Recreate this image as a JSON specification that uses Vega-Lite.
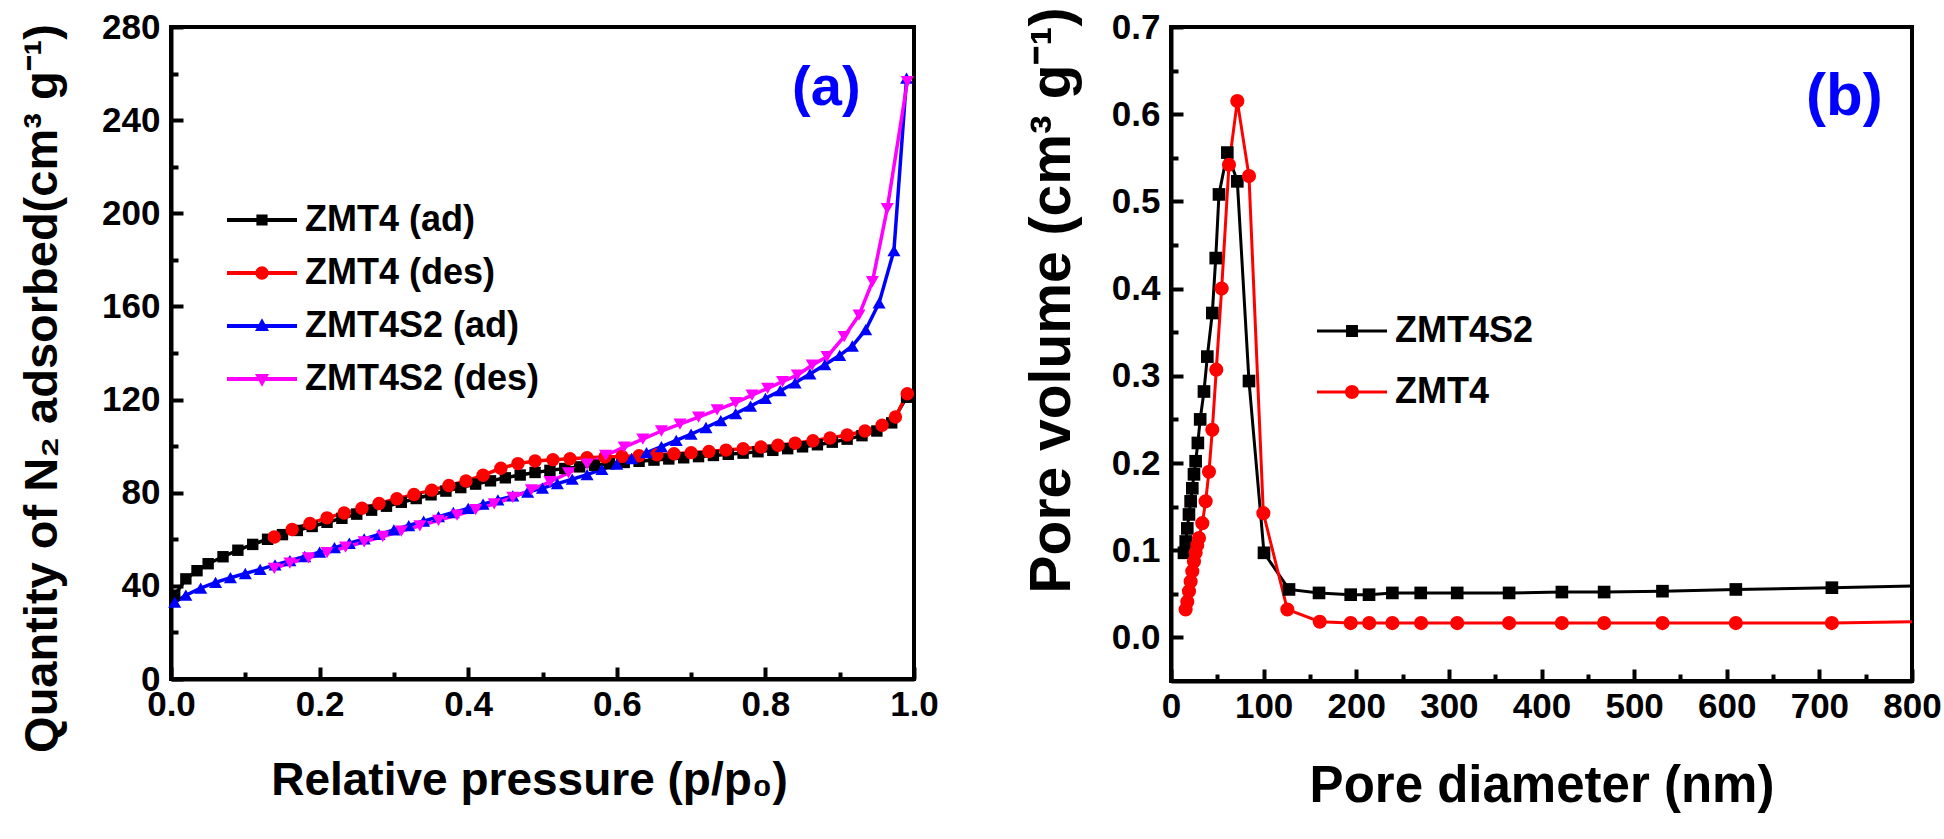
{
  "$schema": "https://vega.github.io/schema/vega-lite/v6.json",
  "background": "white",
  "padding": {"left": 16, "top": 5, "right": 0, "bottom": 0},
  "spacing": 257,
  "bounds": "flush",
  "config": {
    "font": "Liberation Sans",
    "view": {"stroke": "black", "strokeWidth": 4},
    "axis": {
      "grid": false,
      "domainColor": "black",
      "domainWidth": 4,
      "tickColor": "black",
      "tickWidth": 4,
      "labelFont": "Liberation Sans",
      "labelFontWeight": "bold",
      "labelFontSize": 35,
      "labelColor": "black",
      "labelFlush": false,
      "labelOverlap": false,
      "titleFont": "Liberation Sans",
      "titleFontWeight": "bold",
      "titleColor": "black",
      "titleLimit": 2000
    }
  },
  "resolve": {"scale": {"color": "independent", "shape": "independent", "x": "independent", "y": "independent"}, "legend": {"color": "independent", "shape": "independent"}},
  "hconcat": [
    {
      "width": 743,
      "height": 652,
      "resolve": {"axis": {"x": "independent", "y": "independent"}},
      "layer": [
        {
          "data": {"values": [
            {"s":"ZMT4 (ad)","p":0.005,"q":36},{"s":"ZMT4 (ad)","p":0.02,"q":43},{"s":"ZMT4 (ad)","p":0.035,"q":46.5},{"s":"ZMT4 (ad)","p":0.05,"q":49.5},{"s":"ZMT4 (ad)","p":0.07,"q":52.5},{"s":"ZMT4 (ad)","p":0.09,"q":55.3},{"s":"ZMT4 (ad)","p":0.11,"q":57.8},{"s":"ZMT4 (ad)","p":0.13,"q":60},{"s":"ZMT4 (ad)","p":0.15,"q":62},{"s":"ZMT4 (ad)","p":0.17,"q":63.8},{"s":"ZMT4 (ad)","p":0.19,"q":65.5},{"s":"ZMT4 (ad)","p":0.21,"q":67.3},{"s":"ZMT4 (ad)","p":0.23,"q":69},{"s":"ZMT4 (ad)","p":0.25,"q":70.8},{"s":"ZMT4 (ad)","p":0.27,"q":72.5},{"s":"ZMT4 (ad)","p":0.29,"q":74.2},{"s":"ZMT4 (ad)","p":0.31,"q":75.9},{"s":"ZMT4 (ad)","p":0.33,"q":77.5},{"s":"ZMT4 (ad)","p":0.35,"q":79.1},{"s":"ZMT4 (ad)","p":0.37,"q":80.7},{"s":"ZMT4 (ad)","p":0.39,"q":82.2},{"s":"ZMT4 (ad)","p":0.41,"q":83.7},{"s":"ZMT4 (ad)","p":0.43,"q":85.1},{"s":"ZMT4 (ad)","p":0.45,"q":86.4},{"s":"ZMT4 (ad)","p":0.47,"q":87.6},{"s":"ZMT4 (ad)","p":0.49,"q":88.7},{"s":"ZMT4 (ad)","p":0.51,"q":89.6},{"s":"ZMT4 (ad)","p":0.53,"q":90.4},{"s":"ZMT4 (ad)","p":0.55,"q":91.1},{"s":"ZMT4 (ad)","p":0.57,"q":91.8},{"s":"ZMT4 (ad)","p":0.59,"q":92.4},{"s":"ZMT4 (ad)","p":0.61,"q":93},{"s":"ZMT4 (ad)","p":0.63,"q":93.5},{"s":"ZMT4 (ad)","p":0.65,"q":94},{"s":"ZMT4 (ad)","p":0.67,"q":94.5},{"s":"ZMT4 (ad)","p":0.69,"q":95},{"s":"ZMT4 (ad)","p":0.71,"q":95.5},{"s":"ZMT4 (ad)","p":0.73,"q":96},{"s":"ZMT4 (ad)","p":0.75,"q":96.5},{"s":"ZMT4 (ad)","p":0.77,"q":97},{"s":"ZMT4 (ad)","p":0.79,"q":97.6},{"s":"ZMT4 (ad)","p":0.81,"q":98.2},{"s":"ZMT4 (ad)","p":0.83,"q":98.9},{"s":"ZMT4 (ad)","p":0.85,"q":99.7},{"s":"ZMT4 (ad)","p":0.87,"q":100.6},{"s":"ZMT4 (ad)","p":0.89,"q":101.7},{"s":"ZMT4 (ad)","p":0.91,"q":103},{"s":"ZMT4 (ad)","p":0.93,"q":104.5},{"s":"ZMT4 (ad)","p":0.95,"q":106.5},{"s":"ZMT4 (ad)","p":0.97,"q":110},{"s":"ZMT4 (ad)","p":0.99,"q":121},
            {"s":"ZMT4 (des)","p":0.139,"q":61},{"s":"ZMT4 (des)","p":0.163,"q":64.2},{"s":"ZMT4 (des)","p":0.187,"q":66.8},{"s":"ZMT4 (des)","p":0.21,"q":69.2},{"s":"ZMT4 (des)","p":0.233,"q":71.3},{"s":"ZMT4 (des)","p":0.257,"q":73.3},{"s":"ZMT4 (des)","p":0.28,"q":75.4},{"s":"ZMT4 (des)","p":0.304,"q":77.4},{"s":"ZMT4 (des)","p":0.327,"q":79.2},{"s":"ZMT4 (des)","p":0.351,"q":81.1},{"s":"ZMT4 (des)","p":0.374,"q":83.1},{"s":"ZMT4 (des)","p":0.397,"q":85},{"s":"ZMT4 (des)","p":0.42,"q":87.5},{"s":"ZMT4 (des)","p":0.444,"q":90.5},{"s":"ZMT4 (des)","p":0.467,"q":92.5},{"s":"ZMT4 (des)","p":0.49,"q":93.6},{"s":"ZMT4 (des)","p":0.514,"q":94.2},{"s":"ZMT4 (des)","p":0.537,"q":94.6},{"s":"ZMT4 (des)","p":0.56,"q":95},{"s":"ZMT4 (des)","p":0.584,"q":95.3},{"s":"ZMT4 (des)","p":0.607,"q":95.6},{"s":"ZMT4 (des)","p":0.63,"q":95.9},{"s":"ZMT4 (des)","p":0.654,"q":96.3},{"s":"ZMT4 (des)","p":0.677,"q":96.7},{"s":"ZMT4 (des)","p":0.7,"q":97.2},{"s":"ZMT4 (des)","p":0.724,"q":97.7},{"s":"ZMT4 (des)","p":0.747,"q":98.3},{"s":"ZMT4 (des)","p":0.77,"q":98.9},{"s":"ZMT4 (des)","p":0.794,"q":99.6},{"s":"ZMT4 (des)","p":0.817,"q":100.4},{"s":"ZMT4 (des)","p":0.84,"q":101.3},{"s":"ZMT4 (des)","p":0.864,"q":102.3},{"s":"ZMT4 (des)","p":0.887,"q":103.5},{"s":"ZMT4 (des)","p":0.91,"q":104.8},{"s":"ZMT4 (des)","p":0.934,"q":106.5},{"s":"ZMT4 (des)","p":0.957,"q":109},{"s":"ZMT4 (des)","p":0.975,"q":112.5},{"s":"ZMT4 (des)","p":0.991,"q":122.5},
            {"s":"ZMT4S2 (ad)","p":0.005,"q":33},{"s":"ZMT4S2 (ad)","p":0.02,"q":36},{"s":"ZMT4S2 (ad)","p":0.04,"q":39},{"s":"ZMT4S2 (ad)","p":0.06,"q":41.5},{"s":"ZMT4S2 (ad)","p":0.08,"q":43.5},{"s":"ZMT4S2 (ad)","p":0.1,"q":45.3},{"s":"ZMT4S2 (ad)","p":0.12,"q":47.1},{"s":"ZMT4S2 (ad)","p":0.14,"q":49},{"s":"ZMT4S2 (ad)","p":0.16,"q":50.8},{"s":"ZMT4S2 (ad)","p":0.18,"q":52.6},{"s":"ZMT4S2 (ad)","p":0.2,"q":54.5},{"s":"ZMT4S2 (ad)","p":0.22,"q":56.4},{"s":"ZMT4S2 (ad)","p":0.24,"q":58.3},{"s":"ZMT4S2 (ad)","p":0.26,"q":60.2},{"s":"ZMT4S2 (ad)","p":0.28,"q":62.1},{"s":"ZMT4S2 (ad)","p":0.3,"q":64},{"s":"ZMT4S2 (ad)","p":0.32,"q":65.9},{"s":"ZMT4S2 (ad)","p":0.34,"q":67.8},{"s":"ZMT4S2 (ad)","p":0.36,"q":69.7},{"s":"ZMT4S2 (ad)","p":0.38,"q":71.5},{"s":"ZMT4S2 (ad)","p":0.4,"q":73.3},{"s":"ZMT4S2 (ad)","p":0.42,"q":75.1},{"s":"ZMT4S2 (ad)","p":0.44,"q":76.9},{"s":"ZMT4S2 (ad)","p":0.46,"q":78.6},{"s":"ZMT4S2 (ad)","p":0.48,"q":80.3},{"s":"ZMT4S2 (ad)","p":0.5,"q":82},{"s":"ZMT4S2 (ad)","p":0.52,"q":83.9},{"s":"ZMT4S2 (ad)","p":0.54,"q":85.8},{"s":"ZMT4S2 (ad)","p":0.56,"q":87.8},{"s":"ZMT4S2 (ad)","p":0.58,"q":90},{"s":"ZMT4S2 (ad)","p":0.6,"q":92.3},{"s":"ZMT4S2 (ad)","p":0.62,"q":94.7},{"s":"ZMT4S2 (ad)","p":0.64,"q":97.2},{"s":"ZMT4S2 (ad)","p":0.66,"q":99.8},{"s":"ZMT4S2 (ad)","p":0.68,"q":102.5},{"s":"ZMT4S2 (ad)","p":0.7,"q":105.2},{"s":"ZMT4S2 (ad)","p":0.72,"q":108},{"s":"ZMT4S2 (ad)","p":0.74,"q":111},{"s":"ZMT4S2 (ad)","p":0.76,"q":114},{"s":"ZMT4S2 (ad)","p":0.78,"q":117.2},{"s":"ZMT4S2 (ad)","p":0.8,"q":120.5},{"s":"ZMT4S2 (ad)","p":0.82,"q":123.8},{"s":"ZMT4S2 (ad)","p":0.84,"q":127.2},{"s":"ZMT4S2 (ad)","p":0.86,"q":131},{"s":"ZMT4S2 (ad)","p":0.88,"q":135},{"s":"ZMT4S2 (ad)","p":0.9,"q":139},{"s":"ZMT4S2 (ad)","p":0.917,"q":143},{"s":"ZMT4S2 (ad)","p":0.935,"q":150},{"s":"ZMT4S2 (ad)","p":0.953,"q":161.5},{"s":"ZMT4S2 (ad)","p":0.973,"q":184},{"s":"ZMT4S2 (ad)","p":0.99,"q":258},
            {"s":"ZMT4S2 (des)","p":0.139,"q":47.5},{"s":"ZMT4S2 (des)","p":0.16,"q":49.8},{"s":"ZMT4S2 (des)","p":0.185,"q":52},{"s":"ZMT4S2 (des)","p":0.21,"q":54.3},{"s":"ZMT4S2 (des)","p":0.235,"q":56.6},{"s":"ZMT4S2 (des)","p":0.26,"q":58.9},{"s":"ZMT4S2 (des)","p":0.285,"q":61.2},{"s":"ZMT4S2 (des)","p":0.31,"q":63.5},{"s":"ZMT4S2 (des)","p":0.335,"q":65.8},{"s":"ZMT4S2 (des)","p":0.36,"q":68.1},{"s":"ZMT4S2 (des)","p":0.385,"q":70.4},{"s":"ZMT4S2 (des)","p":0.41,"q":72.7},{"s":"ZMT4S2 (des)","p":0.435,"q":75.2},{"s":"ZMT4S2 (des)","p":0.46,"q":78},{"s":"ZMT4S2 (des)","p":0.485,"q":81.2},{"s":"ZMT4S2 (des)","p":0.51,"q":84.7},{"s":"ZMT4S2 (des)","p":0.535,"q":88.5},{"s":"ZMT4S2 (des)","p":0.56,"q":92.3},{"s":"ZMT4S2 (des)","p":0.585,"q":96},{"s":"ZMT4S2 (des)","p":0.61,"q":99.6},{"s":"ZMT4S2 (des)","p":0.635,"q":103},{"s":"ZMT4S2 (des)","p":0.66,"q":106.5},{"s":"ZMT4S2 (des)","p":0.685,"q":109.5},{"s":"ZMT4S2 (des)","p":0.71,"q":112.5},{"s":"ZMT4S2 (des)","p":0.735,"q":115.6},{"s":"ZMT4S2 (des)","p":0.76,"q":118.7},{"s":"ZMT4S2 (des)","p":0.782,"q":121.9},{"s":"ZMT4S2 (des)","p":0.803,"q":124.8},{"s":"ZMT4S2 (des)","p":0.823,"q":127.7},{"s":"ZMT4S2 (des)","p":0.843,"q":130.5},{"s":"ZMT4S2 (des)","p":0.863,"q":134.8},{"s":"ZMT4S2 (des)","p":0.883,"q":138.4},{"s":"ZMT4S2 (des)","p":0.906,"q":147},{"s":"ZMT4S2 (des)","p":0.926,"q":156.3},{"s":"ZMT4S2 (des)","p":0.944,"q":170.6},{"s":"ZMT4S2 (des)","p":0.964,"q":202},{"s":"ZMT4S2 (des)","p":0.991,"q":256.5}
          ]},
          "encoding": {
            "x": {"field": "p", "type": "quantitative", "scale": {"domain": [0, 1], "nice": false, "zero": false},
              "axis": {"orient": "bottom", "values": [0, 0.2, 0.4, 0.6, 0.8, 1.0], "format": ".1f", "tickSize": -12, "labelPadding": 20, "title": "Relative pressure (p/p₀)", "titleFontSize": 46, "titlePadding": 36, "titleX": 358}},
            "y": {"field": "q", "type": "quantitative", "scale": {"domain": [0, 280], "nice": false},
              "axis": {"orient": "left", "values": [0, 40, 80, 120, 160, 200, 240, 280], "tickSize": -12, "labelPadding": 23, "title": "Quantity of N₂ adsorbed(cm³ g⁻¹)", "titleFontSize": 47, "titlePadding": 35, "titleY": 361}},
            "color": {"field": "s", "type": "nominal",
              "scale": {"domain": ["ZMT4 (ad)", "ZMT4 (des)", "ZMT4S2 (ad)", "ZMT4S2 (des)"], "range": ["#000000", "#ff0000", "#0000ff", "#ff00ff"]},
              "legend": {
                "orient": "none", "legendX": 56, "legendY": 158, "title": null,
                "symbolSize": 4900, "symbolStrokeWidth": 0, "symbolOpacity": 1,
                "labelFont": "Liberation Sans", "labelFontWeight": "bold", "labelFontSize": 36, "labelColor": "black", "labelLimit": 500, "labelOffset": 8,
                "rowPadding": -6, "padding": 0
              }}
          },
          "layer": [
            {"mark": {"type": "point", "filled": true, "opacity": 0, "size": 10},
              "encoding": {"shape": {"field": "s", "type": "nominal", "legend": null,
                "scale": {"domain": ["ZMT4 (ad)", "ZMT4 (des)", "ZMT4S2 (ad)", "ZMT4S2 (des)"],
                  "range": ["M-1,-0.057H1V0.057H-1Z M-0.16,-0.16H0.16V0.16H-0.16Z", "M-1,-0.057H1V0.057H-1Z M-0.19,0A0.19,0.19 0 1,1 0.19,0A0.19,0.19 0 1,1 -0.19,0Z", "M-1,-0.057H1V0.057H-1Z M0,-0.22L0.2,0.14H-0.2Z", "M-1,-0.057H1V0.057H-1Z M0,0.22L-0.2,-0.14H0.2Z"]}}}},
            {"mark": {"type": "line", "strokeWidth": 3.5}},
            {"transform": [{"filter": "datum.s == 'ZMT4 (ad)'"}], "mark": {"type": "point", "shape": "square", "filled": true, "opacity": 1, "size": 130}},
            {"transform": [{"filter": "datum.s == 'ZMT4 (des)'"}], "mark": {"type": "point", "shape": "circle", "filled": true, "opacity": 1, "size": 180}},
            {"transform": [{"filter": "datum.s == 'ZMT4S2 (ad)'"}], "mark": {"type": "point", "shape": "triangle-up", "filled": true, "opacity": 1, "size": 170}},
            {"transform": [{"filter": "datum.s == 'ZMT4S2 (des)'"}], "mark": {"type": "point", "shape": "triangle-down", "filled": true, "opacity": 1, "size": 170}}
          ]
        },
        {
          "data": {"values": [{"p": 0.882, "q": 254, "t": "(a)"}]},
          "mark": {"type": "text", "color": "#0000ff", "fontSize": 56, "fontWeight": "bold", "font": "Liberation Sans", "align": "center", "baseline": "middle"},
          "encoding": {
            "x": {"field": "p", "type": "quantitative", "axis": {"orient": "bottom", "values": [0.1, 0.3, 0.5, 0.7, 0.9], "labels": false, "domain": false, "tickSize": -7, "title": null}},
            "y": {"field": "q", "type": "quantitative", "axis": {"orient": "left", "values": [20, 60, 100, 140, 180, 220, 260], "labels": false, "domain": false, "tickSize": -7, "title": null}},
            "text": {"field": "t"}
          }
        }
      ]
    },
    {
      "width": 741,
      "height": 654,
      "resolve": {"axis": {"x": "independent", "y": "independent"}},
      "layer": [
        {
          "data": {"values": [
            {"s":"ZMT4S2","d":14,"v":0.097},{"s":"ZMT4S2","d":15.9,"v":0.11},{"s":"ZMT4S2","d":17.6,"v":0.125},{"s":"ZMT4S2","d":19.4,"v":0.141},{"s":"ZMT4S2","d":21.2,"v":0.156},{"s":"ZMT4S2","d":23,"v":0.171},{"s":"ZMT4S2","d":24.8,"v":0.187},{"s":"ZMT4S2","d":26.6,"v":0.202},{"s":"ZMT4S2","d":29,"v":0.223},{"s":"ZMT4S2","d":31.5,"v":0.25},{"s":"ZMT4S2","d":35.6,"v":0.282},{"s":"ZMT4S2","d":39.2,"v":0.322},{"s":"ZMT4S2","d":44.6,"v":0.372},{"s":"ZMT4S2","d":48.3,"v":0.435},{"s":"ZMT4S2","d":51.8,"v":0.508},{"s":"ZMT4S2","d":60.8,"v":0.556},{"s":"ZMT4S2","d":71.6,"v":0.523},{"s":"ZMT4S2","d":84.2,"v":0.294},{"s":"ZMT4S2","d":100.4,"v":0.097},{"s":"ZMT4S2","d":127.4,"v":0.055},{"s":"ZMT4S2","d":159.8,"v":0.051},{"s":"ZMT4S2","d":194,"v":0.049},{"s":"ZMT4S2","d":213.8,"v":0.049},{"s":"ZMT4S2","d":239,"v":0.051},{"s":"ZMT4S2","d":269.6,"v":0.051},{"s":"ZMT4S2","d":309,"v":0.051},{"s":"ZMT4S2","d":365,"v":0.051},{"s":"ZMT4S2","d":422,"v":0.052},{"s":"ZMT4S2","d":467.6,"v":0.052},{"s":"ZMT4S2","d":530.6,"v":0.053},{"s":"ZMT4S2","d":609.8,"v":0.055},{"s":"ZMT4S2","d":713.5,"v":0.057},{"s":"ZMT4S2","d":830,"v":0.0595},
            {"s":"ZMT4","d":15.8,"v":0.032},{"s":"ZMT4","d":17.6,"v":0.041},{"s":"ZMT4","d":19.4,"v":0.053},{"s":"ZMT4","d":21.2,"v":0.064},{"s":"ZMT4","d":23,"v":0.076},{"s":"ZMT4","d":24.8,"v":0.087},{"s":"ZMT4","d":26.6,"v":0.097},{"s":"ZMT4","d":28.4,"v":0.106},{"s":"ZMT4","d":30.2,"v":0.114},{"s":"ZMT4","d":33.8,"v":0.131},{"s":"ZMT4","d":37.4,"v":0.156},{"s":"ZMT4","d":41,"v":0.19},{"s":"ZMT4","d":44.6,"v":0.238},{"s":"ZMT4","d":48.9,"v":0.307},{"s":"ZMT4","d":54.7,"v":0.4},{"s":"ZMT4","d":62.6,"v":0.542},{"s":"ZMT4","d":71.6,"v":0.615},{"s":"ZMT4","d":84.2,"v":0.529},{"s":"ZMT4","d":99.7,"v":0.1425},{"s":"ZMT4","d":125.6,"v":0.032},{"s":"ZMT4","d":160.6,"v":0.018},{"s":"ZMT4","d":194,"v":0.0164},{"s":"ZMT4","d":214,"v":0.0164},{"s":"ZMT4","d":239,"v":0.0164},{"s":"ZMT4","d":270,"v":0.0164},{"s":"ZMT4","d":309,"v":0.0164},{"s":"ZMT4","d":365,"v":0.0164},{"s":"ZMT4","d":422,"v":0.0164},{"s":"ZMT4","d":467.6,"v":0.0164},{"s":"ZMT4","d":530.6,"v":0.0164},{"s":"ZMT4","d":609.8,"v":0.0164},{"s":"ZMT4","d":713.5,"v":0.0164},{"s":"ZMT4","d":830,"v":0.0185}
          ]},
          "encoding": {
            "x": {"field": "d", "type": "quantitative", "scale": {"domain": [0, 800], "nice": false},
              "axis": {"orient": "bottom", "values": [0, 100, 200, 300, 400, 500, 600, 700, 800], "tickSize": -12, "labelPadding": 20, "title": "Pore diameter (nm)", "titleFontSize": 51, "titlePadding": 37}},
            "y": {"field": "v", "type": "quantitative", "scale": {"domain": [-0.05, 0.7], "nice": false, "zero": false},
              "axis": {"orient": "left", "values": [0, 0.1, 0.2, 0.3, 0.4, 0.5, 0.6, 0.7], "format": ".1f", "tickSize": -12, "labelPadding": 23, "title": "Pore volume (cm³ g⁻¹)", "titleFontSize": 57, "titlePadding": 30, "titleY": 273}},
            "color": {"field": "s", "type": "nominal",
              "scale": {"domain": ["ZMT4S2", "ZMT4"], "range": ["#000000", "#ff0000"]},
              "legend": {
                "orient": "none", "legendX": 146, "legendY": 269, "title": null,
                "symbolSize": 4900, "symbolStrokeWidth": 0, "symbolOpacity": 1,
                "labelFont": "Liberation Sans", "labelFontWeight": "bold", "labelFontSize": 36, "labelColor": "black", "labelLimit": 500, "labelOffset": 8,
                "rowPadding": 8, "padding": 0
              }}
          },
          "layer": [
            {"mark": {"type": "point", "filled": true, "opacity": 0, "size": 10, "clip": true},
              "encoding": {"shape": {"field": "s", "type": "nominal", "legend": null,
                "scale": {"domain": ["ZMT4S2", "ZMT4"],
                  "range": ["M-1,-0.045H1V0.045H-1Z M-0.17,-0.17H0.17V0.17H-0.17Z", "M-1,-0.045H1V0.045H-1Z M-0.2,0A0.2,0.2 0 1,1 0.2,0A0.2,0.2 0 1,1 -0.2,0Z"]}}}},
            {"mark": {"type": "line", "strokeWidth": 3, "clip": true}},
            {"transform": [{"filter": "datum.s == 'ZMT4S2'"}], "mark": {"type": "point", "shape": "square", "filled": true, "opacity": 1, "size": 160, "clip": true}},
            {"transform": [{"filter": "datum.s == 'ZMT4'"}], "mark": {"type": "point", "shape": "circle", "filled": true, "opacity": 1, "size": 200, "clip": true}}
          ]
        },
        {
          "data": {"values": [{"d": 727, "v": 0.62, "t": "(b)"}]},
          "mark": {"type": "text", "color": "#0000ff", "fontSize": 60, "fontWeight": "bold", "font": "Liberation Sans", "align": "center", "baseline": "middle"},
          "encoding": {
            "x": {"field": "d", "type": "quantitative", "axis": {"orient": "bottom", "values": [50, 150, 250, 350, 450, 550, 650, 750], "labels": false, "domain": false, "tickSize": -7, "title": null}},
            "y": {"field": "v", "type": "quantitative", "axis": {"orient": "left", "values": [0.05, 0.15, 0.25, 0.35, 0.45, 0.55, 0.65], "labels": false, "domain": false, "tickSize": -7, "title": null}},
            "text": {"field": "t"}
          }
        }
      ]
    }
  ]
}
